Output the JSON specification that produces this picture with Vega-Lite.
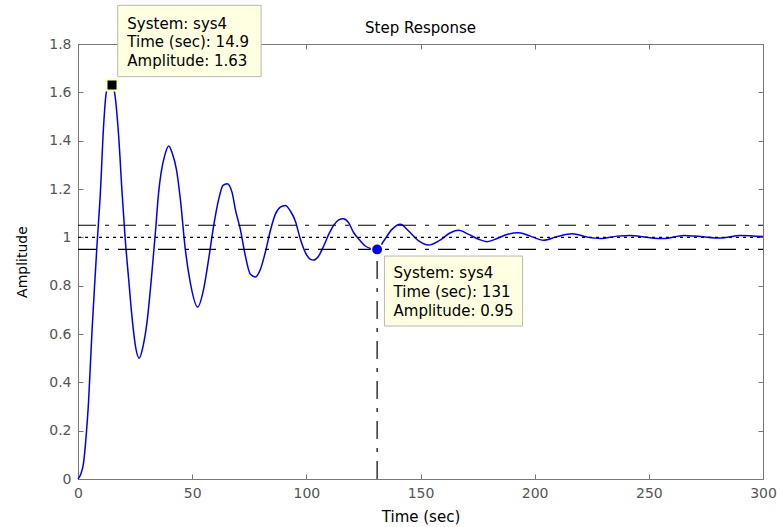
{
  "$schema": "https://vega.github.io/schema/vega-lite/v6.json",
  "width": 685,
  "height": 435,
  "autosize": {"type": "none"},
  "padding": {"left": 78, "top": 44, "right": 14, "bottom": 48},
  "background": "white",
  "config": {"view": {"stroke": null}, "font": "DejaVu Sans"},
  "title": {"text": "Step Response", "fontSize": 15, "fontWeight": "normal", "color": "black", "font": "DejaVu Sans", "offset": -31},
  "datasets": {
    "resp": [
      {"t": 0, "amp": 0}, {"t": 1.2, "amp": 0.02}, {"t": 2.45, "amp": 0.068}, {"t": 3.5, "amp": 0.17},
      {"t": 4.6, "amp": 0.316}, {"t": 6.1, "amp": 0.606}, {"t": 7.2, "amp": 0.79}, {"t": 8.3, "amp": 0.964},
      {"t": 9.8, "amp": 1.185}, {"t": 11.2, "amp": 1.46}, {"t": 12.4, "amp": 1.6}, {"t": 13.6, "amp": 1.626},
      {"t": 14.9, "amp": 1.63}, {"t": 16.0, "amp": 1.6}, {"t": 17.8, "amp": 1.42}, {"t": 19.3, "amp": 1.185},
      {"t": 20.7, "amp": 0.99}, {"t": 22.2, "amp": 0.826}, {"t": 23.6, "amp": 0.675}, {"t": 25.4, "amp": 0.537},
      {"t": 26.8, "amp": 0.5}, {"t": 28.5, "amp": 0.55}, {"t": 30.2, "amp": 0.647}, {"t": 32.1, "amp": 0.826},
      {"t": 33.9, "amp": 1.02}, {"t": 35.3, "amp": 1.185}, {"t": 36.4, "amp": 1.268}, {"t": 37.9, "amp": 1.336},
      {"t": 39.7, "amp": 1.378}, {"t": 41.2, "amp": 1.35}, {"t": 43.1, "amp": 1.281}, {"t": 44.8, "amp": 1.16},
      {"t": 47.0, "amp": 0.95}, {"t": 49.2, "amp": 0.812}, {"t": 52.4, "amp": 0.712}, {"t": 55.0, "amp": 0.785},
      {"t": 57.2, "amp": 0.909}, {"t": 59.4, "amp": 1.047}, {"t": 61.6, "amp": 1.157}, {"t": 63.5, "amp": 1.215},
      {"t": 65.3, "amp": 1.222}, {"t": 67.5, "amp": 1.185}, {"t": 68.9, "amp": 1.116}, {"t": 71.1, "amp": 1.033},
      {"t": 73.3, "amp": 0.923}, {"t": 75.5, "amp": 0.847}, {"t": 77.7, "amp": 0.836}, {"t": 79.9, "amp": 0.868},
      {"t": 82.0, "amp": 0.937}, {"t": 84.2, "amp": 1.026}, {"t": 86.4, "amp": 1.095}, {"t": 88.6, "amp": 1.125},
      {"t": 90.8, "amp": 1.132}, {"t": 93.0, "amp": 1.109}, {"t": 95.2, "amp": 1.067}, {"t": 97.4, "amp": 0.992},
      {"t": 99.6, "amp": 0.937}, {"t": 101.8, "amp": 0.909}, {"t": 103.2, "amp": 0.906}, {"t": 105.4, "amp": 0.923},
      {"t": 107.6, "amp": 0.964}, {"t": 109.8, "amp": 1.012}, {"t": 112.0, "amp": 1.05}, {"t": 114.2, "amp": 1.072},
      {"t": 116.1, "amp": 1.077}, {"t": 118.5, "amp": 1.061}, {"t": 120.7, "amp": 1.02}, {"t": 123.7, "amp": 0.985},
      {"t": 125.8, "amp": 0.964}, {"t": 128.5, "amp": 0.953}, {"t": 131.0, "amp": 0.95}, {"t": 133.9, "amp": 0.985},
      {"t": 137.5, "amp": 1.033}, {"t": 141.2, "amp": 1.054}, {"t": 144.8, "amp": 1.026}, {"t": 149.2, "amp": 0.985},
      {"t": 153.6, "amp": 0.968}, {"t": 158.0, "amp": 0.985}, {"t": 163.1, "amp": 1.019}, {"t": 166.7, "amp": 1.029},
      {"t": 171.1, "amp": 1.012}, {"t": 175.5, "amp": 0.992}, {"t": 179.1, "amp": 0.982}, {"t": 183.5, "amp": 0.995},
      {"t": 187.9, "amp": 1.012}, {"t": 193.0, "amp": 1.019}, {"t": 198.1, "amp": 1.005}, {"t": 203.9, "amp": 0.988},
      {"t": 209.8, "amp": 1.003}, {"t": 216.4, "amp": 1.015}, {"t": 223.0, "amp": 1.001}, {"t": 228.8, "amp": 0.995},
      {"t": 236.1, "amp": 1.005}, {"t": 241.9, "amp": 1.008}, {"t": 249.2, "amp": 1.0}, {"t": 256.5, "amp": 0.995},
      {"t": 265.3, "amp": 1.008}, {"t": 272.6, "amp": 1.003}, {"t": 281.3, "amp": 0.997}, {"t": 290.1, "amp": 1.008},
      {"t": 300.0, "amp": 1.003}
    ],
    "hlines": [
      {"y": 1.05, "x1": 0, "x2": 300, "style": "dashdot"},
      {"y": 0.95, "x1": 0, "x2": 300, "style": "dashdot"},
      {"y": 1.0, "x1": 0, "x2": 300, "style": "dotted"}
    ],
    "vline": [{"t": 131, "y1": 0, "y2": 0.95}],
    "boxes": [
      {"x1": 17.4, "x2": 80.2, "y1": 1.665, "y2": 1.96},
      {"x1": 134.2, "x2": 194.7, "y1": 0.633, "y2": 0.9226}
    ],
    "tips": [
      {"x": 21.6, "y": 1.884, "label": "System: sys4"},
      {"x": 21.6, "y": 1.808, "label": "Time (sec): 14.9"},
      {"x": 21.6, "y": 1.729, "label": "Amplitude: 1.63"},
      {"x": 138.2, "y": 0.851, "label": "System: sys4"},
      {"x": 138.2, "y": 0.773, "label": "Time (sec): 131"},
      {"x": 138.2, "y": 0.695, "label": "Amplitude: 0.95"}
    ],
    "peak": [{"t": 14.9, "amp": 1.63}],
    "settle": [{"t": 131, "amp": 0.95}]
  },
  "layer": [
    {
      "data": {"name": "resp"},
      "mark": {"type": "line", "color": "#0000ee", "strokeWidth": 1.5, "interpolate": "monotone"},
      "encoding": {
        "x": {"field": "t", "type": "quantitative", "scale": {"domain": [0, 300], "nice": false, "zero": false},
          "axis": {"orient": "bottom", "values": [0, 50, 100, 150, 200, 250, 300], "format": "d", "tickSize": -5, "labelPadding": 12,
            "labelFont": "DejaVu Sans", "labelFontSize": 14, "labelColor": "#555555", "domainColor": "#777777", "tickColor": "#777777",
            "grid": false, "labelFlush": false, "title": "Time (sec)", "titleFont": "DejaVu Sans", "titleFontSize": 15, "titleFontWeight": "normal",
            "titleColor": "black", "titlePadding": 9}},
        "y": {"field": "amp", "type": "quantitative", "scale": {"domain": [0, 1.8], "nice": false, "zero": false},
          "axis": {"orient": "left", "values": [0, 0.2, 0.4, 0.6, 0.8, 1, 1.2, 1.4, 1.6, 1.8], "format": "~g", "tickSize": -5, "labelPadding": 12,
            "labelFont": "DejaVu Sans", "labelFontSize": 14, "labelColor": "#555555", "domainColor": "#777777", "tickColor": "#777777",
            "grid": false, "labelFlush": false, "title": "Amplitude", "titleFont": "DejaVu Sans", "titleFontSize": 14, "titleFontWeight": "normal",
            "titleColor": "black", "titlePadding": 19}}
      }
    },
    {
      "data": {"name": "hlines"},
      "mark": {"type": "rule", "color": "black", "strokeWidth": 1.2},
      "encoding": {
        "x": {"field": "x1", "type": "quantitative", "scale": {"domain": [0, 300], "nice": false, "zero": false},
          "axis": {"orient": "top", "values": [0, 50, 100, 150, 200, 250, 300], "tickSize": -5, "labels": false, "title": null,
            "domainColor": "#777777", "tickColor": "#777777", "grid": false}},
        "x2": {"field": "x2"},
        "y": {"field": "y", "type": "quantitative", "scale": {"domain": [0, 1.8], "nice": false, "zero": false},
          "axis": {"orient": "right", "values": [0, 0.2, 0.4, 0.6, 0.8, 1, 1.2, 1.4, 1.6, 1.8], "tickSize": -5, "labels": false, "title": null,
            "domainColor": "#777777", "tickColor": "#777777", "grid": false}},
        "strokeDash": {"field": "style", "type": "nominal", "scale": {"domain": ["dashdot", "dotted"], "range": [[18, 9, 4, 9], [3, 4]]}, "legend": null}
      }
    },
    {
      "data": {"name": "vline"},
      "mark": {"type": "rule", "color": "black", "strokeWidth": 1.2, "strokeDash": [18, 9, 4, 9]},
      "encoding": {
        "x": {"field": "t", "type": "quantitative", "axis": null},
        "y": {"field": "y1", "type": "quantitative", "axis": null},
        "y2": {"field": "y2"}
      }
    },
    {
      "data": {"name": "boxes"},
      "mark": {"type": "rect", "fill": "#ffffe1", "stroke": "#b8b8b8", "strokeWidth": 1},
      "encoding": {
        "x": {"field": "x1", "type": "quantitative", "axis": null},
        "x2": {"field": "x2"},
        "y": {"field": "y1", "type": "quantitative", "axis": null},
        "y2": {"field": "y2"}
      }
    },
    {
      "data": {"name": "tips"},
      "mark": {"type": "text", "align": "left", "baseline": "middle", "font": "DejaVu Sans", "fontSize": 15, "color": "black"},
      "encoding": {
        "x": {"field": "x", "type": "quantitative", "axis": null},
        "y": {"field": "y", "type": "quantitative", "axis": null},
        "text": {"field": "label"}
      }
    },
    {
      "data": {"name": "peak"},
      "mark": {"type": "point", "shape": "square", "size": 121, "filled": true, "fill": "black", "stroke": "#ffffc0", "strokeWidth": 2, "opacity": 1},
      "encoding": {
        "x": {"field": "t", "type": "quantitative", "axis": null},
        "y": {"field": "amp", "type": "quantitative", "axis": null}
      }
    },
    {
      "data": {"name": "settle"},
      "mark": {"type": "point", "shape": "circle", "size": 130, "filled": true, "fill": "#0000ff", "stroke": "#ffffc8", "strokeWidth": 1.5, "opacity": 1},
      "encoding": {
        "x": {"field": "t", "type": "quantitative", "axis": null},
        "y": {"field": "amp", "type": "quantitative", "axis": null}
      }
    }
  ],
  "resolve": {"axis": {"x": "independent", "y": "independent"}}
}
